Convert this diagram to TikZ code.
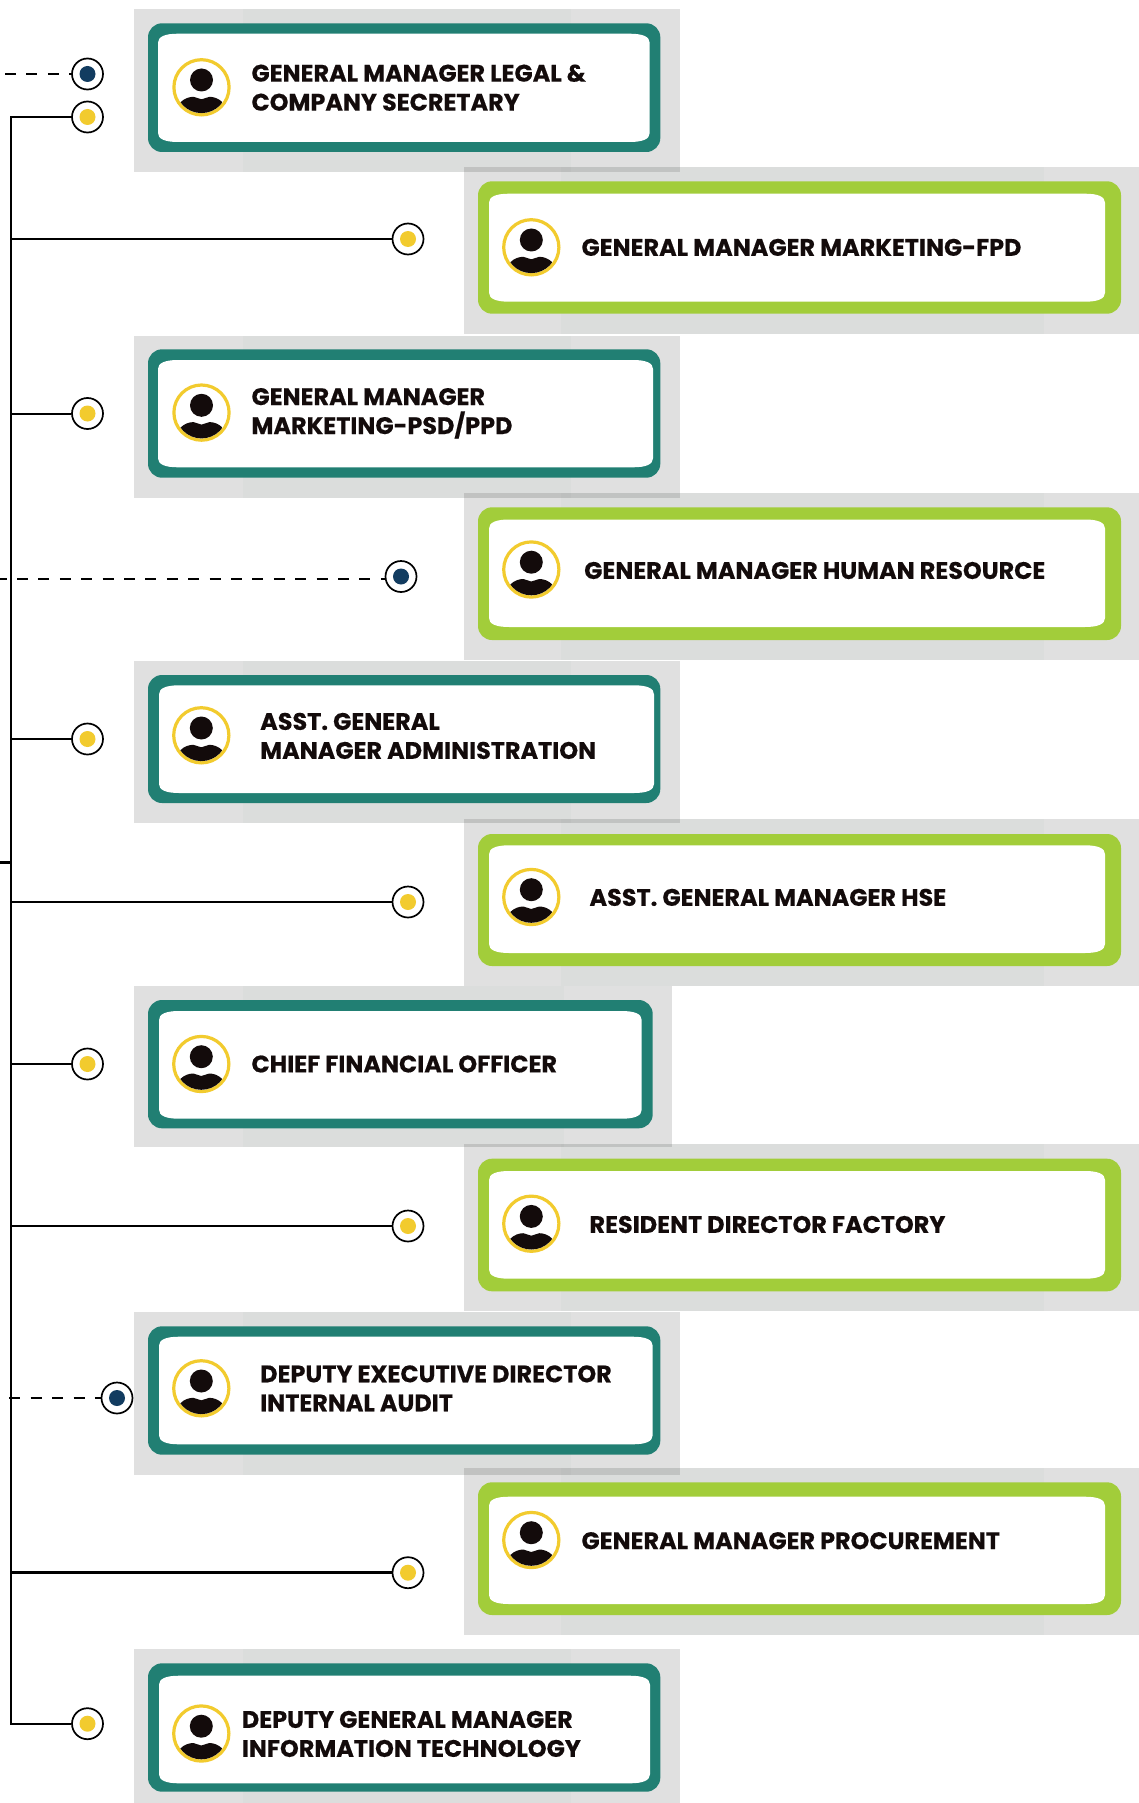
\documentclass[tikz,border=0pt]{standalone}
\usepackage{fontspec}
\setmainfont{Poppins}[BoldFeatures={FakeBold=0.4}]
\definecolor{tealbox}{HTML}{217F73}
\definecolor{greenbox}{HTML}{A2CD3A}
\definecolor{ringy}{HTML}{F2CB2E}
\definecolor{navy}{HTML}{123C60}
\definecolor{inkc}{HTML}{130B0B}
\definecolor{bandc}{HTML}{7F9A90}
\pgfdeclareradialshading{avshade}{\pgfpoint{0bp}{0bp}}{color(0bp)=(white); color(30bp)=(white); color(50bp)=(black!8)}
\tikzset{
  x=1pt,y=-1pt,
  panelbg/.style={fill=black,fill opacity=.12,draw=none},
  panelband/.style={fill=bandc,fill opacity=.05,draw=none},
  outerbox/.style={rounded corners=14pt,draw=none},
  txtlabel/.style={anchor=west,inner sep=0pt,align=left,text=inkc,font=\fontsize{23.9}{29}\selectfont\bfseries,
    execute at begin node=\vphantom{/},execute at end node=\vphantom{/}},
  ring/.style={circle,draw=black,line width=1.7pt,fill=white,minimum size=31pt,inner sep=0pt},
  dot/.style={circle,draw=none,minimum size=16pt,inner sep=0pt},
  link/.style={draw=black,line width=#1},
  dashlink/.style={draw=black,line width=1.5pt,dash pattern=on 11pt off 10.4pt},
  avatar/.pic={
    \fill[white] (0,0) circle (28);
    \shade[shading=avshade] (0,0) circle (27);
    \draw[ringy,line width=3.2pt] (0,0) circle (27.6);
    \fill[inkc] (0,-7.3) circle (11.5);
    \begin{scope}
      \clip (0,0) circle (25.8);
      \fill[inkc] (-21,28) -- (-21,15) .. controls (-17,11) and (-12,9.5) .. (-8,9.5) .. controls (-5,9.5) and (-3,12) .. (0,12) .. controls (3,12) and (5,9.5) .. (8,9.5) .. controls (12,9.5) and (17,11) .. (21,15) -- (21,28) -- cycle;
    \end{scope}
  }
}
\newcommand{\panelrect}[6]{%
  \path[panelbg] (#1,#2) rectangle (#3,#4);
  \path[panelband] (#5,#2) rectangle (#6,#4);
}
% name, colour, outer l t r b
\newcommand{\boxouter}[6]{%
  \node[outerbox,fill=#2,minimum width=#5-#3,minimum height=#6-#4,inner sep=0pt] (#1) at ({(#3+#5)/2},{(#4+#6)/2}) {};
}
% inner white l t r b, with wide elliptical corners
\newcommand{\boxinner}[4]{%
  \fill[white] ({#1+20},#2) -- ({#3-20},#2) .. controls ({#3-7},#2) and (#3,{#2+3}) .. (#3,{#2+9})
    -- (#3,{#4-9}) .. controls (#3,{#4-3}) and ({#3-7},#4) .. ({#3-20},#4)
    -- ({#1+20},#4) .. controls ({#1+7},#4) and (#1,{#4-3}) .. (#1,{#4-9})
    -- (#1,{#2+9}) .. controls (#1,{#2+3}) and ({#1+7},#2) .. ({#1+20},#2) -- cycle;
}
\newcommand{\mkbullet}[4]{%
  \node[ring] (#1) at (#2,#3) {};
  \node[dot,fill=#4] (#1d) at (#1) {};
}
\begin{document}
\begin{tikzpicture}
\useasboundingbox (0,0) rectangle (1139,1803);
\begin{scope}
\clip (0,0) rectangle (1139,1803);
% grey panels
\panelrect{134}{9}{680}{172}{243}{570.5}
\panelrect{134}{335.5}{680}{498}{243}{570.5}
\panelrect{134}{661}{680}{823}{243}{570.5}
\panelrect{134}{1312}{680}{1475}{243}{570.5}
\panelrect{134}{1649}{680}{1812}{243}{570.5}
\panelrect{134}{986}{672}{1146.5}{243}{564}
\panelrect{464}{167}{1139}{334}{561}{1044}
\panelrect{464}{493}{1139}{660}{561}{1044}
\panelrect{464}{819}{1139}{986}{561}{1044}
\panelrect{464}{1144}{1139}{1311}{561}{1044}
\panelrect{464}{1468}{1139}{1635}{561}{1044}
% boxes
\boxouter{r1}{tealbox}{148}{23.3}{660.3}{152}
\boxinner{158}{33.7}{649.7}{142}
\boxouter{r2}{greenbox}{478}{181.3}{1121}{313.7}
\boxinner{489}{193.7}{1105}{301.7}
\boxouter{r3}{tealbox}{148}{349.3}{660.3}{477.7}
\boxinner{158}{360}{653}{467.3}
\boxouter{r4}{greenbox}{478}{507.3}{1121}{640}
\boxinner{489}{519.5}{1105}{627}
\boxouter{r5}{tealbox}{148}{675}{660.3}{803}
\boxinner{159}{685.3}{654}{793}
\boxouter{r6}{greenbox}{478}{834}{1121}{966}
\boxinner{489}{845.3}{1105}{953}
\boxouter{r7}{tealbox}{148}{1000}{652.7}{1128.3}
\boxinner{159}{1011}{641.7}{1118.7}
\boxouter{r8}{greenbox}{478}{1158.7}{1121}{1291.3}
\boxinner{489}{1171}{1105}{1278.7}
\boxouter{r9}{tealbox}{148}{1326.3}{660.3}{1454.7}
\boxinner{159}{1336.7}{652.7}{1444.3}
\boxouter{r10}{greenbox}{478}{1482.3}{1121}{1615}
\boxinner{489}{1496.7}{1105}{1604}
\boxouter{r11}{tealbox}{148}{1663.3}{660.3}{1791.7}
\boxinner{159}{1675.7}{650}{1783.3}
% avatars
\foreach \ax/\ay in {201.5/87.3,531.3/247.3,201.5/412.6,531.3/569.5,201.3/735.3,531.3/897,201.3/1064,531.3/1223.7,201.3/1388.3,531.3/1540,201.3/1733.5}
  \pic at (\ax,\ay) {avatar};
% labels
\node[txtlabel] (t1) at (251.3,89.8) {GENERAL MANAGER LEGAL \&\\COMPANY SECRETARY};
\node[txtlabel] (t2) at (581.3,246.7) {GENERAL MANAGER MARKETING-FPD};
\node[txtlabel] (t3) at (251.3,413.3) {GENERAL MANAGER\\MARKETING-PSD/PPD};
\node[txtlabel] (t4) at (584,569.8) {GENERAL MANAGER HUMAN RESOURCE};
\node[txtlabel] (t5) at (260,738.1) {ASST. GENERAL\\MANAGER ADMINISTRATION};
\node[txtlabel] (t6) at (589.3,896.7) {ASST. GENERAL MANAGER HSE};
\node[txtlabel] (t7) at (251.3,1063.3) {CHIEF FINANCIAL OFFICER};
\node[txtlabel] (t8) at (589.3,1223.8) {RESIDENT DIRECTOR FACTORY};
\node[txtlabel] (t9) at (260,1390.5) {DEPUTY EXECUTIVE DIRECTOR\\INTERNAL AUDIT};
\node[txtlabel] (t10) at (581.3,1540) {GENERAL MANAGER PROCUREMENT};
\node[txtlabel] (t11) at (241.7,1736.1) {DEPUTY GENERAL MANAGER\\INFORMATION TECHNOLOGY};
\end{scope}
% trunk and branches
\coordinate (top) at (11.2,117);
\coordinate (bot) at (11.2,1723.7);
\coordinate (stub) at (0,862);
\coordinate (stubend) at (11.2,862);
\coordinate (d1) at (5,74);
\coordinate (d4) at (-4.4,579);
\coordinate (d4e) at (385,579);
\coordinate (d9) at (9.3,1398);
\mkbullet{b1}{87.5}{74}{navy}
\mkbullet{b2}{87.5}{117}{ringy}
\mkbullet{b3}{408}{239}{ringy}
\mkbullet{b4}{87.5}{413.5}{ringy}
\mkbullet{b5}{401}{576.5}{navy}
\mkbullet{b6}{87.5}{739}{ringy}
\mkbullet{b7}{408}{902}{ringy}
\mkbullet{b8}{87.5}{1064}{ringy}
\mkbullet{b9}{408}{1226}{ringy}
\mkbullet{b10}{117}{1398}{navy}
\mkbullet{b11}{408}{1572.7}{ringy}
\mkbullet{b12}{87.5}{1723.7}{ringy}
\draw[link=2pt,line join=miter] (b2.west) -- (top) -- (bot) -- (b12.west);
\draw[link=3pt] (stub) -- (stubend);
\draw[link=2.9pt] (top |- b3) -- (b3.west);
\draw[link=2pt] (top |- b4) -- (b4.west);
\draw[link=2pt] (top |- b6) -- (b6.west);
\draw[link=2.1pt] (top |- b7) -- (b7.west);
\draw[link=2pt] (top |- b8) -- (b8.west);
\draw[link=2pt] (top |- b9) -- (b9.west);
\draw[link=2.8pt] (top |- b11) -- (b11.west);
\draw[dashlink] (d1) -- (b1.west);
\draw[dashlink] (d4) -- (d4e);
\draw[dashlink] (d9) -- (b10.west);
\end{tikzpicture}
\end{document}
